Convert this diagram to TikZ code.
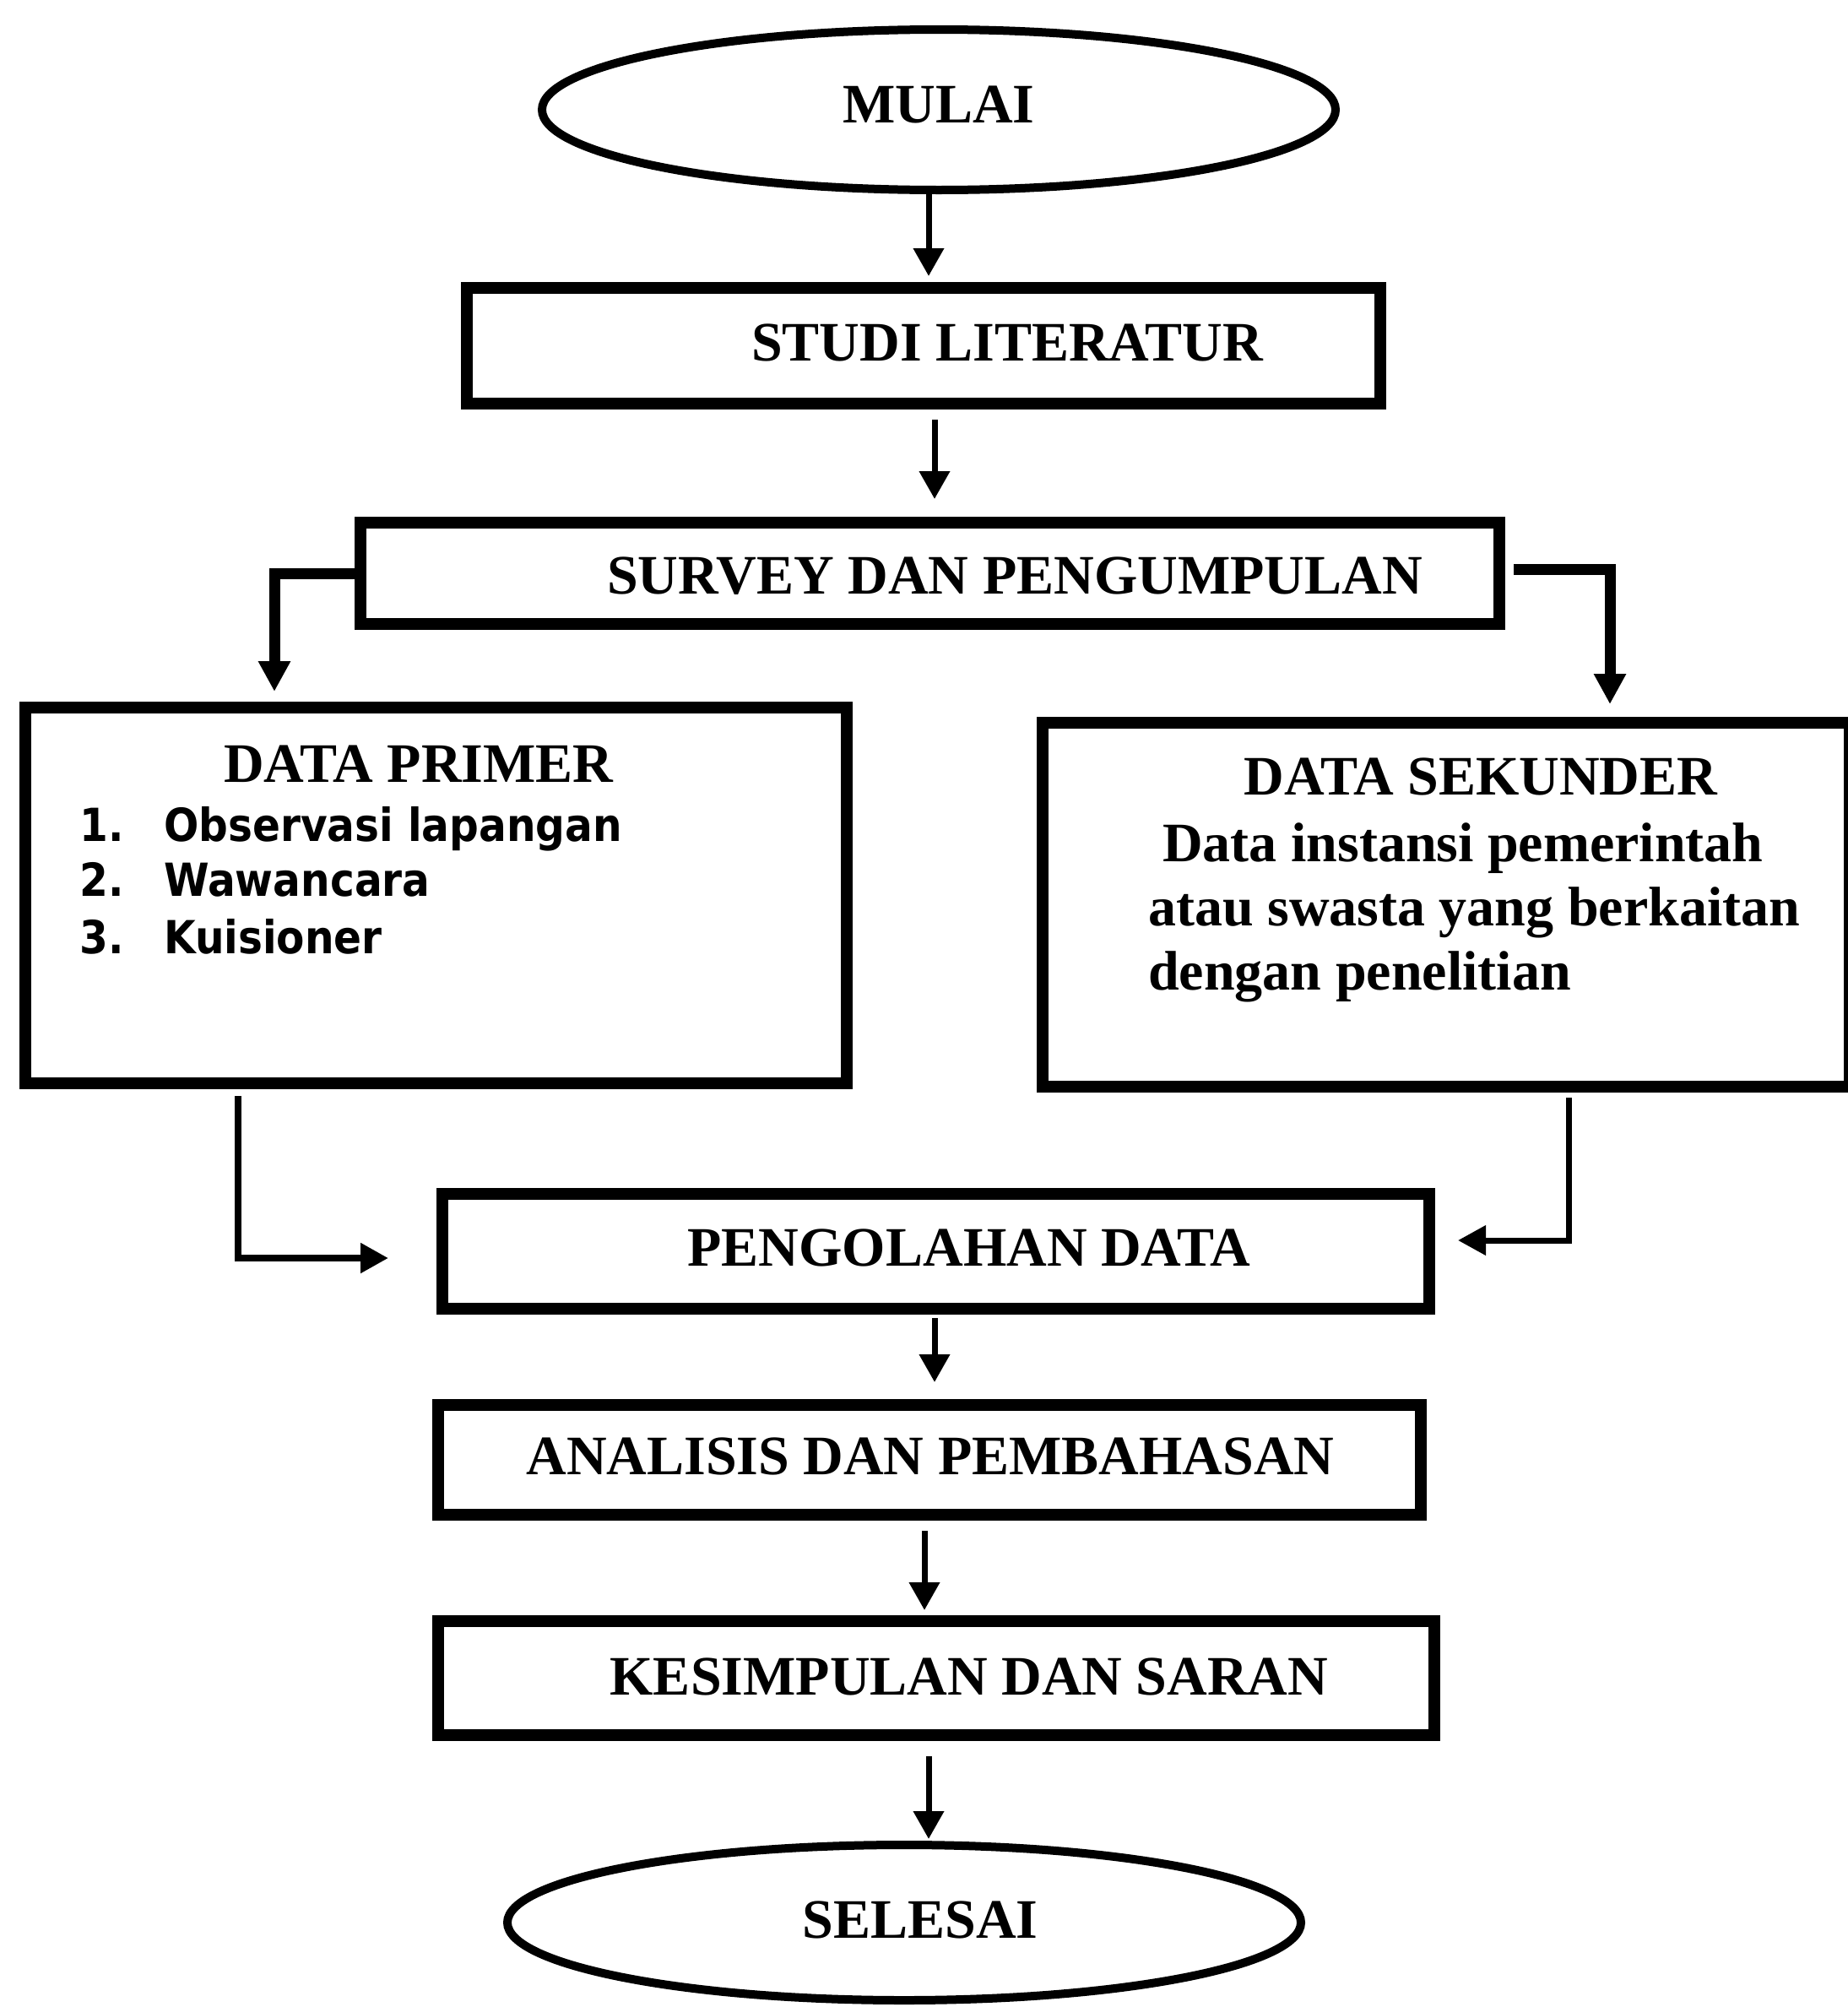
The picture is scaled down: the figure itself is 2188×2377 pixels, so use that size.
\documentclass[tikz,border=0pt]{standalone}
\usepackage{fontspec}
\setmainfont{Liberation Serif}
\newfontfamily\listfont[FakeStretch=0.9]{DejaVu Sans}
\usetikzlibrary{arrows.meta,shapes.geometric}
\begin{document}
\begin{tikzpicture}[x=1pt,y=-1pt,
  box/.style={draw,rectangle,line width=14pt,inner sep=0pt},
  oval/.style={draw,ellipse,line width=10pt,inner sep=0pt},
  ttl/.style={font=\fontsize{66}{76}\selectfont\bfseries,inner sep=0pt},
  bodytxt/.style={font=\fontsize{66}{76}\selectfont\bfseries,inner sep=0pt,anchor=base west},
  lst/.style={font=\listfont\fontsize{54}{66}\selectfont\bfseries,inner sep=0pt,anchor=base west},
  arr/.style={line width=7pt,-{Triangle[length=33pt,width=35pt]}},
  arrT/.style={line width=13pt,line join=miter,-{Triangle[length=36pt,width=36pt]}},
  arrB/.style={line width=8pt,line join=miter,-{Triangle[length=33pt,width=34pt]}}
]
\useasboundingbox (0,0) rectangle (2188,2377);
\fill[white] (0,0) rectangle (2188,2377);

% shapes
\node[oval,minimum width=940pt,minimum height=190pt] (mulai) at (1112,130) {};
\node[box,minimum width=1082pt,minimum height=137pt] (studi) at (1094,409.5) {};
\node[box,minimum width=1349pt,minimum height=120pt] (survey) at (1101.5,679) {};
\node[box,minimum width=973pt,minimum height=445pt] (primer) at (516.5,1060.5) {};
\node[box,minimum width=956pt,minimum height=431pt] (sekunder) at (1713,1071.5) {};
\node[box,minimum width=1169pt,minimum height=136pt] (olah) at (1108.5,1482) {};
\node[box,minimum width=1164pt,minimum height=130pt] (analisis) at (1101,1729) {};
\node[box,minimum width=1180pt,minimum height=135pt] (simpul) at (1109,1987.5) {};
\node[oval,minimum width=940pt,minimum height=184pt] (selesai) at (1071,2277) {};

% texts
\node[ttl] (tmulai) at (1112,124) {MULAI};
\node[ttl] (tstudi) at (1193,406) {STUDI LITERATUR};
\node[ttl] (tsurvey) at (1202,682) {SURVEY DAN PENGUMPULAN};
\node[ttl] (tprimer) at (496,905) {DATA PRIMER};
\node[lst] (n1) at (94,996) {1.};
\node[lst] (i1) at (194,996) {Observasi lapangan};
\node[lst] (n2) at (94,1061) {2.};
\node[lst] (i2) at (194,1061) {Wawancara};
\node[lst] (n3) at (94,1129) {3.};
\node[lst] (i3) at (194,1129) {Kuisioner};
\node[ttl] (tsekunder) at (1754,920) {DATA SEKUNDER};
\node[bodytxt] (s1) at (1377,1020) {Data instansi pemerintah};
\node[bodytxt] (s2) at (1360,1096) {atau swasta yang berkaitan};
\node[bodytxt] (s3) at (1360,1172) {dengan penelitian};
\node[ttl] (tolah) at (1148,1478) {PENGOLAHAN DATA};
\node[ttl] (tanalisis) at (1102,1725) {ANALISIS DAN PEMBAHASAN};
\node[ttl] (tsimpul) at (1148,1986) {KESIMPULAN DAN SARAN};
\node[ttl] (tselesai) at (1090,2274) {SELESAI};

% connectors
\draw[arr,shorten >=7pt] (1100,0 |- mulai.south) -- (1100,0 |- studi.north);
\draw[arr,shorten <=12pt,shorten >=21pt] (1107,0 |- studi.south) -- (1107,0 |- survey.north);
\draw[arrT,shorten >=12pt] (survey.west) -| (325,0 |- primer.north);
\draw[arrT,shorten <=10pt,shorten >=15pt] ([yshift=5pt]survey.east) -| (1907,0 |- sekunder.north);
\draw[arrB,shorten <=8pt,shorten >=57pt] (282,0 |- primer.south) |- ([yshift=-8pt]olah.west);
\draw[arrB,line width=7pt,shorten <=6pt,shorten >=27pt] (1858,0 |- sekunder.south) |- ([yshift=13pt]olah.east);
\draw[arr,shorten <=4pt,shorten >=20pt] (1107,0 |- olah.south) -- (1107,0 |- analisis.north);
\draw[arr,shorten <=12pt,shorten >=6pt] (1095,0 |- analisis.south) -- (1095,0 |- simpul.north);
\draw[arr,shorten <=18pt,shorten >=2pt] (1100,0 |- simpul.south) -- (1100,0 |- selesai.north);
\end{tikzpicture}
\end{document}
